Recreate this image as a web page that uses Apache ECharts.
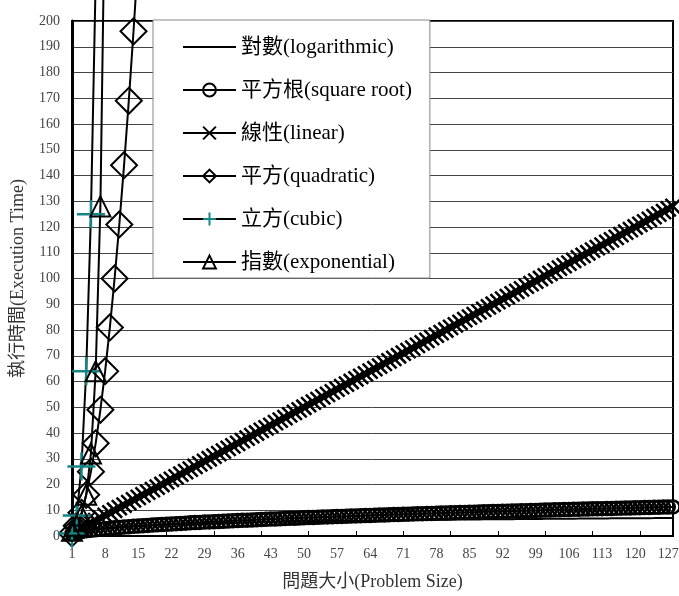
<!DOCTYPE html>
<html><head><meta charset="utf-8">
<script src="https://cdn.jsdelivr.net/npm/echarts@6/dist/echarts.min.js"></script>
<style>html,body{margin:0;padding:0;background:#fff}#c{width:679px;height:596px}</style>
</head><body><div id="c"></div>
<script>
const categories = [1,2,3,4,5,6,7,8,9,10,11,12,13,14,15,16,17,18,19,20,21,22,23,24,25,26,27,28,29,30,31,32,33,34,35,36,37,38,39,40,41,42,43,44,45,46,47,48,49,50,51,52,53,54,55,56,57,58,59,60,61,62,63,64,65,66,67,68,69,70,71,72,73,74,75,76,77,78,79,80,81,82,83,84,85,86,87,88,89,90,91,92,93,94,95,96,97,98,99,100,101,102,103,104,105,106,107,108,109,110,111,112,113,114,115,116,117,118,119,120,121,122,123,124,125,126,127,128];
const logValues = [0,1,1.58,2,2.32,2.58,2.81,3,3.17,3.32,3.46,3.58,3.7,3.81,3.91,4,4.09,4.17,4.25,4.32,4.39,4.46,4.52,4.58,4.64,4.7,4.75,4.81,4.86,4.91,4.95,5,5.04,5.09,5.13,5.17,5.21,5.25,5.29,5.32,5.36,5.39,5.43,5.46,5.49,5.52,5.55,5.58,5.61,5.64,5.67,5.7,5.73,5.75,5.78,5.81,5.83,5.86,5.88,5.91,5.93,5.95,5.98,6,6.02,6.04,6.07,6.09,6.11,6.13,6.15,6.17,6.19,6.21,6.23,6.25,6.27,6.29,6.3,6.32,6.34,6.36,6.38,6.39,6.41,6.43,6.44,6.46,6.48,6.49,6.51,6.52,6.54,6.55,6.57,6.58,6.6,6.61,6.63,6.64,6.66,6.67,6.69,6.7,6.71,6.73,6.74,6.75,6.77,6.78,6.79,6.81,6.82,6.83,6.85,6.86,6.87,6.88,6.9,6.91,6.92,6.93,6.94,6.95,6.97,6.98,6.99,7];
const sqrtValues = [1,1.41,1.73,2,2.24,2.45,2.65,2.83,3,3.16,3.32,3.46,3.61,3.74,3.87,4,4.12,4.24,4.36,4.47,4.58,4.69,4.8,4.9,5,5.1,5.2,5.29,5.39,5.48,5.57,5.66,5.74,5.83,5.92,6,6.08,6.16,6.24,6.32,6.4,6.48,6.56,6.63,6.71,6.78,6.86,6.93,7,7.07,7.14,7.21,7.28,7.35,7.42,7.48,7.55,7.62,7.68,7.75,7.81,7.87,7.94,8,8.06,8.12,8.19,8.25,8.31,8.37,8.43,8.49,8.54,8.6,8.66,8.72,8.77,8.83,8.89,8.94,9,9.06,9.11,9.17,9.22,9.27,9.33,9.38,9.43,9.49,9.54,9.59,9.64,9.7,9.75,9.8,9.85,9.9,9.95,10,10.05,10.1,10.15,10.2,10.25,10.3,10.34,10.39,10.44,10.49,10.54,10.58,10.63,10.68,10.72,10.77,10.82,10.86,10.91,10.95,11,11.05,11.09,11.14,11.18,11.22,11.27,11.31];
const linearValues = [1,2,3,4,5,6,7,8,9,10,11,12,13,14,15,16,17,18,19,20,21,22,23,24,25,26,27,28,29,30,31,32,33,34,35,36,37,38,39,40,41,42,43,44,45,46,47,48,49,50,51,52,53,54,55,56,57,58,59,60,61,62,63,64,65,66,67,68,69,70,71,72,73,74,75,76,77,78,79,80,81,82,83,84,85,86,87,88,89,90,91,92,93,94,95,96,97,98,99,100,101,102,103,104,105,106,107,108,109,110,111,112,113,114,115,116,117,118,119,120,121,122,123,124,125,126,127,128];
const quadraticValues = [1,4,9,16,25,36,49,64,81,100,121,144,169,196,225];
const cubicValues = [1,8,27,64,125,216];
const exponentialValues = [2,4,8,16,32,64,128,256];
const seriesNames = ['對數(logarithmic)','平方根(square root)','線性(linear)','平方(quadratic)','立方(cubic)','指數(exponential)'];

const FONT = "'Liberation Serif','Noto Sans CJK TC',serif";
const chart = echarts.init(document.getElementById('c'), null, {renderer:'canvas'});
function mk(name, data, symbol, size, color, bw){
  return {
    name, type:'line', data, symbol, symbolSize:size,
    showSymbol: true, showAllSymbol: true,
    clip:false, animation:false,
    lineStyle:{color:'#000', width:2},
    itemStyle:{color:'rgba(0,0,0,0)', borderColor:color, borderWidth:bw},
    emphasis:{disabled:true}
  };
}
chart.setOption({
  backgroundColor:'#fff',
  animation:false,
  grid:{left:72, right:6, top:21, bottom:60, show:true, borderColor:'#000', borderWidth:2, containLabel:false, outerBoundsMode:'none'},
  legend:{
    orient:'vertical', left:153, top:20,
    padding:[15,18,4,29], itemGap:19, itemWidth:53, itemHeight:16,
    backgroundColor:'#fff', borderColor:'#888', borderWidth:1,
    textStyle:{fontFamily:FONT, fontSize:21, lineHeight:24, color:'#000'},
    data:seriesNames
  },
  xAxis:{
    type:'category', data:categories, boundaryGap:false,
    name:'問題大小(Problem Size)', nameLocation:'middle', nameGap:37,
    nameTextStyle:{fontFamily:FONT, fontSize:18, color:'#333'},
    axisLine:{lineStyle:{color:'#000', width:2}},
    axisTick:{interval:9, inside:true, length:5, lineStyle:{color:'#000'}},
    axisLabel:{interval:6, fontFamily:FONT, fontSize:14, color:'#444', margin:11},
    splitLine:{show:false}
  },
  yAxis:{
    type:'value', min:0, max:200, interval:10,
    name:'執行時間(Execution Time)', nameLocation:'middle', nameGap:45,
    nameTextStyle:{fontFamily:FONT, fontSize:18, color:'#333'},
    axisLine:{show:true, lineStyle:{color:'#000', width:3}},
    axisTick:{show:false},
    axisLabel:{fontFamily:FONT, fontSize:14, color:'#444', margin:12},
    splitLine:{lineStyle:{color:'#444', width:1}}
  },
  series:[
    mk(seriesNames[0], logValues, 'none', 0, '#000', 0),
    mk(seriesNames[1], sqrtValues, 'circle', 13, '#000', 2.5),
    mk(seriesNames[2], linearValues, 'path://M0,0L10,10M10,0L0,10', 15, '#000', 2.5),
    mk(seriesNames[3], quadraticValues, 'diamond', 26, '#000', 2),
    mk(seriesNames[4], cubicValues, 'path://M5,0L5,10M0,5L10,5', 28, '#138585', 2.5),
    mk(seriesNames[5], exponentialValues, 'triangle', 20, '#000', 2)
  ]
});
</script></body></html>
